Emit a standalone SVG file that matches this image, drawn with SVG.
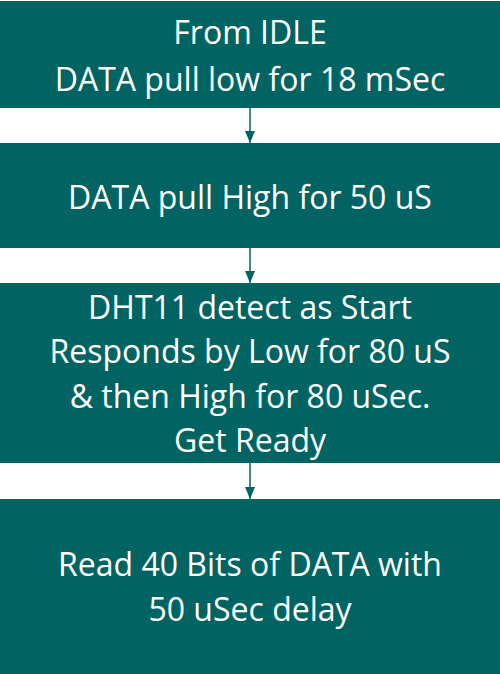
<svg xmlns="http://www.w3.org/2000/svg" width="500" height="674" viewBox="0 0 500 674">
<defs>
<style>
.box{fill:#016462;}
.lbl{fill:#ffffff;font-family:"Open Sans","Noto Sans",sans-serif;font-size:32px;text-anchor:middle;}
.conn{stroke:#016462;stroke-width:1.5;fill:none;}
</style>
<marker id="ah" viewBox="0 0 12 10" refX="12" refY="5" markerWidth="12" markerHeight="10" markerUnits="userSpaceOnUse" orient="auto">
<path d="M0,0 L12,5 L0,10 Z" fill="#016462"/>
</marker>
</defs>
<rect width="500" height="674" fill="#ffffff"/>
<g id="node1">
<rect class="box" x="0" y="1" width="500" height="107"/>
<text class="lbl" x="250" y="44">From IDLE</text>
<text class="lbl" x="250" y="91">DATA pull low for 18 mSec</text>
</g>
<g id="node2">
<rect class="box" x="0" y="143" width="500" height="105"/>
<text class="lbl" x="250" y="209">DATA pull High for 50 uS</text>
</g>
<g id="node3">
<rect class="box" x="0" y="283" width="500" height="180"/>
<text class="lbl" x="250" y="319">DHT11 detect as Start</text>
<text class="lbl" x="250" y="363">Responds by Low for 80 uS</text>
<text class="lbl" x="250" y="408">&amp; then High for 80 uSec.</text>
<text class="lbl" x="250" y="452">Get Ready</text>
</g>
<g id="node4">
<rect class="box" x="0" y="499" width="500" height="175"/>
<text class="lbl" x="250" y="576">Read 40 Bits of DATA with</text>
<text class="lbl" x="250" y="621">50 uSec delay</text>
</g>
<g id="connectors">
<line class="conn" x1="250" y1="108" x2="250" y2="143" marker-end="url(#ah)"/>
<line class="conn" x1="250" y1="248" x2="250" y2="283" marker-end="url(#ah)"/>
<line class="conn" x1="250" y1="463" x2="250" y2="499" marker-end="url(#ah)"/>
</g>
</svg>
